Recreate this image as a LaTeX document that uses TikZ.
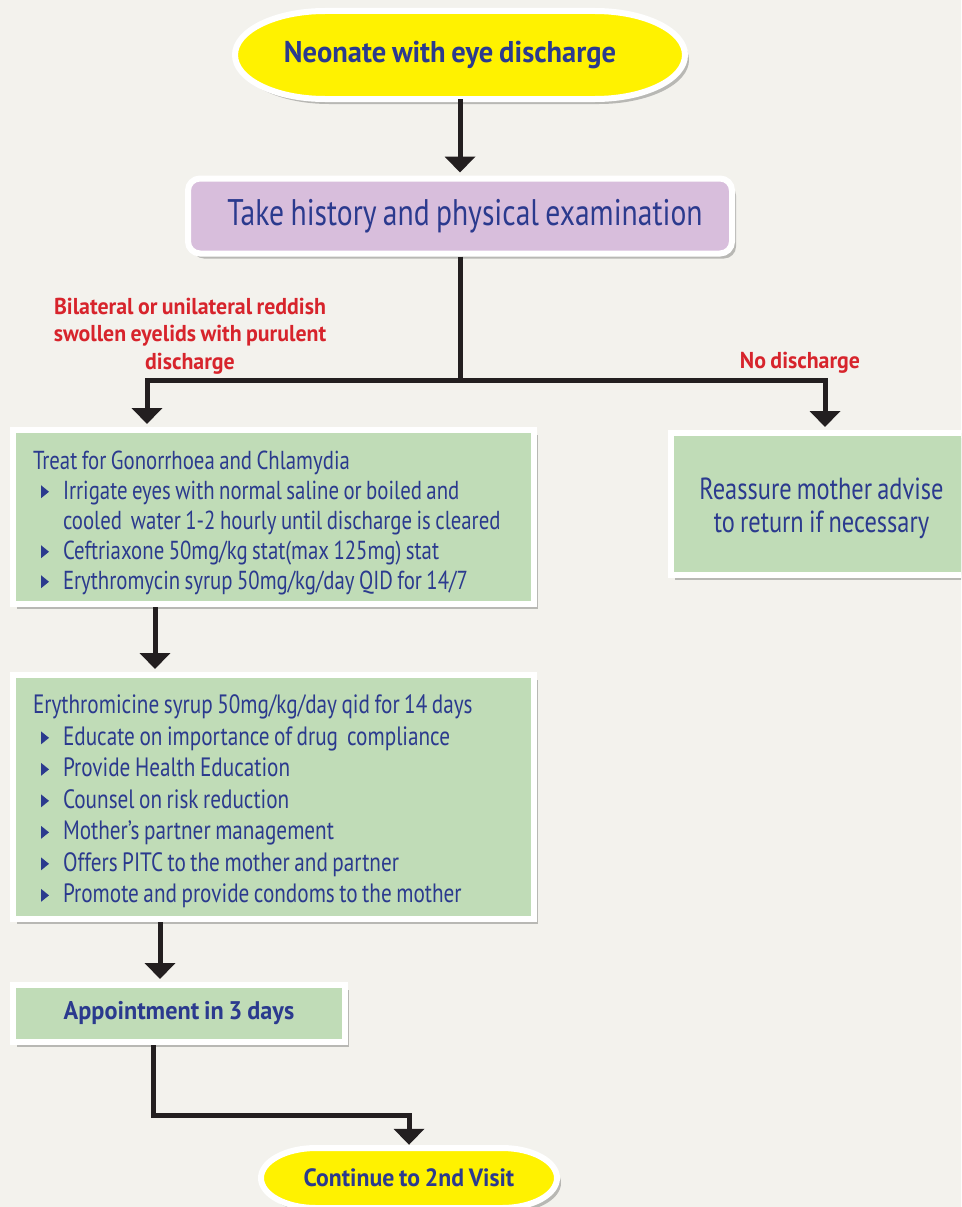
\documentclass[tikz,border=0pt]{standalone}
\usepackage{fontspec}
\setmainfont{PT Sans}[FakeStretch=0.8,WordSpace=0.8,BoldFeatures={FakeStretch=0.95}]
\usetikzlibrary{shadows,arrows.meta,calc}
\definecolor{bg}{HTML}{F3F2ED}
\definecolor{yel}{HTML}{FFF200}
\definecolor{pur}{HTML}{D8BEDC}
\definecolor{grn}{HTML}{C0DCB7}
\definecolor{tblue}{HTML}{2B3A8E}
\definecolor{tred}{HTML}{D7242C}
\definecolor{arrc}{HTML}{231F20}
\newcommand{\bul}{\tikz[x=1pt,y=1pt,baseline=-1pt]\fill[tblue] (0,0)--(0,13)--(8,6.5)--cycle;}
\newcommand{\bitem}[1]{\par\hangindent=30pt\hangafter=1\noindent\hspace*{8pt}\makebox[22pt][l]{\bul}#1}
\tikzset{
  shad/.style={drop shadow={shadow xshift=4pt,shadow yshift=-5pt,opacity=0.35,fill=black!70}},
  ovalshape/.style={draw=white,line width=6,fill=yel,shad},
  ovaltext/.style={text=tblue,font=\bfseries\fontsize{30}{36}\selectfont},
  greenbox/.style={draw=white,line width=6,fill=grn,text=tblue,shad,inner xsep=20pt,inner ysep=0pt},
  redlbl/.style={text=tred,font=\bfseries\fontsize{23}{27.5}\selectfont,align=center},
  ln/.style={line width=5,draw=arrc},
  arr/.style={ln,-{Triangle[width=30pt,length=16pt]},shorten >=3pt},
}
\begin{document}
\begin{tikzpicture}[x=1pt,y=-1pt]
\useasboundingbox (0,0) rectangle (961,1207);
\clip (0,0) rectangle (961,1207);
\fill[bg] (-5,-5) rectangle (970,1215);

% top oval (elliptical ends)
\path[ovalshape] (325,11) -- (595,11) arc[start angle=90,end angle=-90,x radius=90pt,y radius=44pt]
  -- (325,99) arc[start angle=270,end angle=90,x radius=90pt,y radius=44pt] -- cycle;
\node[ovaltext,minimum width=450,minimum height=88] (start) at (460,55) {Neonate with eye discharge\hspace*{20pt}};

\node[draw=white,line width=6,fill=pur,text=tblue,shad,rounded corners=12,minimum width=544,minimum height=75,
  font=\fontsize{37}{44}\selectfont] (hist) at (460,216) {\hspace*{10pt}Take history and physical examination};

\node[redlbl] (lblL) at (190,336) {Bilateral or unilateral reddish\\swollen eyelids with purulent\\discharge};
\node[redlbl] (lblR) at (800,363) {No discharge};

\node[greenbox,font=\fontsize{26}{30}\selectfont,align=flush left,text width=481,minimum height=174] (box1) at (273.5,517) {%
\rule{0pt}{30pt}Treat for Gonorrhoea and Chlamydia
\bitem{Irrigate eyes with normal saline or boiled and\newline cooled\ \ water 1-2 hourly until discharge is cleared}
\bitem{Ceftriaxone 50mg/kg stat(max 125mg) stat}
\bitem{Erythromycin syrup 50mg/kg/day QID for 14/7}};

\node[greenbox,text width=261,minimum height=142,align=flush center,font=\fontsize{30.5}{33}\selectfont] (boxr) at (821.5,504) {\rule{0pt}{31pt}Reassure mother advise\\to return if necessary};

\node[greenbox,font=\fontsize{26.5}{31.5}\selectfont,align=flush left,text width=481,minimum height=244] (box2) at (273.5,797) {%
\rule{0pt}{28pt}Erythromicine syrup 50mg/kg/day qid for 14 days
\bitem{Educate on importance of drug\ \ compliance}
\bitem{Provide Health Education}
\bitem{Counsel on risk reduction}
\bitem{Mother’s partner management}
\bitem{Offers PITC to the mother and partner}
\bitem{Promote and provide condoms to the mother}};

\node[greenbox,inner xsep=0pt,minimum width=332,minimum height=57,font=\bfseries\fontsize{25.5}{28}\selectfont] (box3) at (179,1013.5) {Appointment in 3 days};

% bottom oval
\path[ovalshape] (316,1148) -- (502,1148) arc[start angle=90,end angle=-90,x radius=55pt,y radius=30pt]
  -- (316,1208) arc[start angle=270,end angle=90,x radius=55pt,y radius=30pt] -- cycle;
\node[ovaltext,minimum width=296,minimum height=60,font=\bfseries\fontsize{25}{30}\selectfont] (end) at (409,1178) {Continue to 2nd Visit};

% connectors
\draw[arr] (start.south) -- (hist.north);
\coordinate (split) at (460,380);
\coordinate (lturn) at (147,380);
\coordinate (rturn) at (825,380);
\draw[ln] (hist.south) -- (split);
\draw[arr] (split) -- (lturn) -- (lturn |- box1.north);
\draw[arr] (split) -- (rturn) -- (rturn |- boxr.north);
\coordinate (c12) at (155,0);
\draw[arr] (box1.south -| c12) -- (box2.north -| c12);
\coordinate (c23) at (160,0);
\draw[arr] (box2.south -| c23) -- (box3.north -| c23);
\coordinate (c3) at (153,1115);
\draw[arr] (box3.south -| c3) -- (c3) -| (end.north);
\end{tikzpicture}
\end{document}
